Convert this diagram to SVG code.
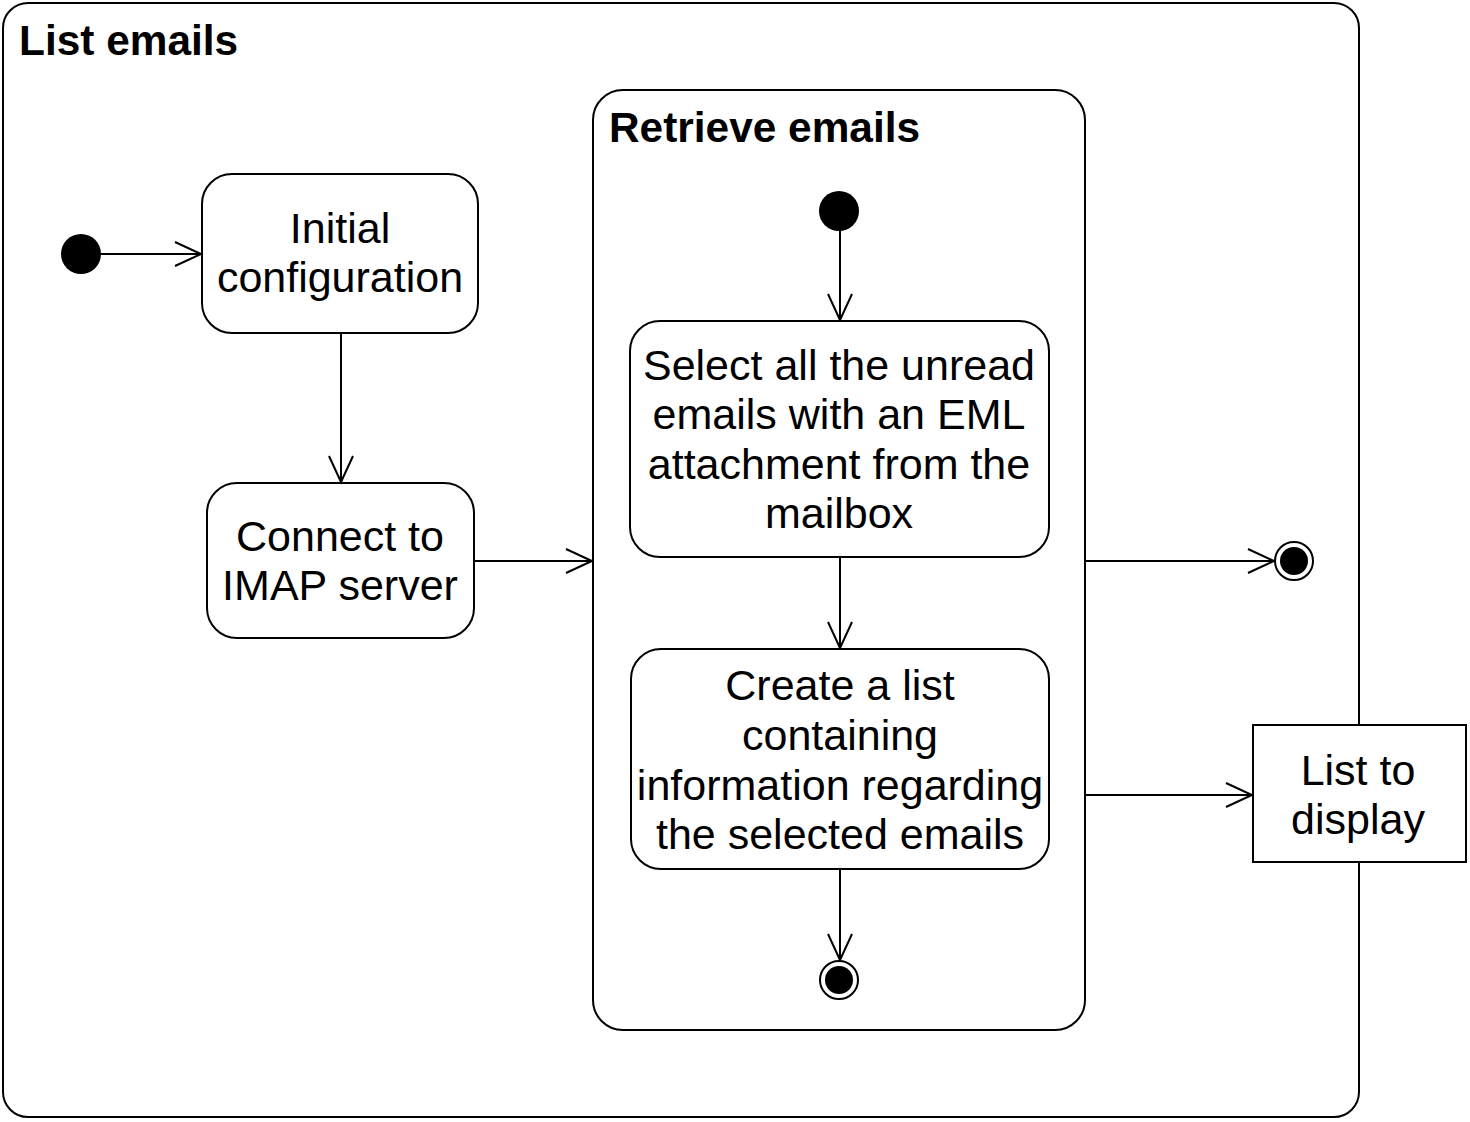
<svg xmlns="http://www.w3.org/2000/svg" width="1470" height="1122" viewBox="0 0 1470 1122">
<defs>
<style>
.frame{fill:#fff;stroke:#000;stroke-width:2}
.node{fill:#fff;stroke:#000;stroke-width:2}
.lbl{font-family:"Liberation Sans",Arial,sans-serif;font-size:43px;fill:#000;text-anchor:middle}
.title{font-family:"Liberation Sans",Arial,sans-serif;font-size:42.4px;font-weight:bold;fill:#000}
.edge{fill:none;stroke:#000;stroke-width:2}
</style>
<marker id="arr" markerUnits="userSpaceOnUse" markerWidth="30" markerHeight="30" viewBox="-27 -14 30 28" refX="0" refY="0" orient="auto">
<path d="M-26,-12 L0,0 L-26,12" fill="none" stroke="#000" stroke-width="2"/>
</marker>
</defs>
<g id="list-emails">
<rect class="frame" x="3" y="3" width="1356" height="1114" rx="25" ry="25"/>
<text class="title" x="19" y="55">List emails</text>
</g>
<g id="retrieve-emails">
<rect class="frame" x="593" y="90" width="492" height="940" rx="30" ry="30"/>
<text class="title" x="609" y="142">Retrieve emails</text>
</g>
<g id="start-outer"><circle cx="81" cy="254" r="20" fill="#000"/></g>
<g id="initial-configuration">
<rect class="node" x="202" y="174" width="276" height="159" rx="30" ry="30"/>
<text class="lbl" x="340" y="243">Initial</text>
<text class="lbl" x="340" y="292">configuration</text>
</g>
<g id="connect-imap">
<rect class="node" x="207" y="483" width="267" height="155" rx="30" ry="30"/>
<text class="lbl" x="340" y="551">Connect to</text>
<text class="lbl" x="340" y="600">IMAP server</text>
</g>
<g id="start-inner"><circle cx="839" cy="211" r="20" fill="#000"/></g>
<g id="select-emails">
<rect class="node" x="630" y="321" width="419" height="236" rx="30" ry="30"/>
<text class="lbl" x="839" y="380">Select all the unread</text>
<text class="lbl" x="839" y="429">emails with an EML</text>
<text class="lbl" x="839" y="479">attachment from the</text>
<text class="lbl" x="839" y="528">mailbox</text>
</g>
<g id="create-list">
<rect class="node" x="631" y="649" width="418" height="220" rx="30" ry="30"/>
<text class="lbl" x="840" y="700">Create a list</text>
<text class="lbl" x="840" y="750">containing</text>
<text class="lbl" x="840" y="800">information regarding</text>
<text class="lbl" x="840" y="849">the selected emails</text>
</g>
<g id="end-inner">
<circle cx="839" cy="980" r="19" fill="#fff" stroke="#000" stroke-width="2"/>
<circle cx="839" cy="980" r="14" fill="#000"/>
</g>
<g id="end-outer">
<circle cx="1294" cy="561" r="19" fill="#fff" stroke="#000" stroke-width="2"/>
<circle cx="1294" cy="561" r="14" fill="#000"/>
</g>
<g id="list-to-display">
<rect class="node" x="1253" y="725" width="213" height="137"/>
<text class="lbl" x="1358" y="785">List to</text>
<text class="lbl" x="1358" y="834">display</text>
</g>
<g id="connectors">
<path class="edge" d="M101,254 L201,254" marker-end="url(#arr)"/>
<path class="edge" d="M341,334 L341,482" marker-end="url(#arr)"/>
<path class="edge" d="M475,561 L592,561" marker-end="url(#arr)"/>
<path class="edge" d="M840,231 L840,320" marker-end="url(#arr)"/>
<path class="edge" d="M840,558 L840,648" marker-end="url(#arr)"/>
<path class="edge" d="M840,870 L840,960" marker-end="url(#arr)"/>
<path class="edge" d="M1086,561 L1274,561" marker-end="url(#arr)"/>
<path class="edge" d="M1086,795 L1252,795" marker-end="url(#arr)"/>
</g>
</svg>
